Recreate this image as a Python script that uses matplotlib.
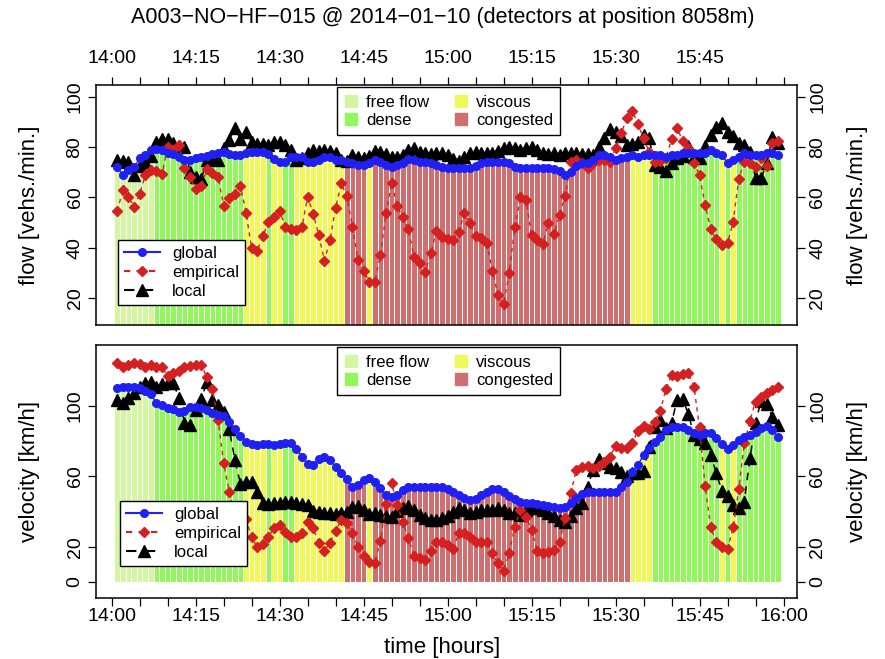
import numpy as np
import matplotlib
matplotlib.use("Agg")
import matplotlib.pyplot as plt
from matplotlib.lines import Line2D

plt.rcParams['font.family'] = ['Liberation Sans', 'DejaVu Sans']

# minutes after 14:00
minutes = np.arange(1, 120)

# traffic state of each minute (run lengths)
state_runs = [("free flow", 7), ("dense", 16), ("viscous", 4), ("dense", 1), ("viscous", 2),
              ("dense", 2), ("viscous", 9), ("congested", 4), ("viscous", 1), ("congested", 46),
              ("viscous", 4), ("dense", 12), ("viscous", 1), ("dense", 1), ("viscous", 1), ("dense", 8)]
state_colors = {"free flow": "#d4f5a2", "dense": "#92f75c", "viscous": "#eff75a", "congested": "#cf7070"}
states = [s for s, n in state_runs for _ in range(n)]

global_flow = [72.0, 68.9, 70.9, 72.0, 75.6, 76.9, 78.9, 79.2, 78.9, 77.8, 77.3, 76.0, 74.9, 74.9, 75.6, 76.0,
               76.5, 77.3, 77.8, 78.2, 77.3, 76.9, 76.9, 77.8, 78.2, 78.2, 78.2, 77.3, 75.2, 74.0, 74.0, 76.0,
               76.0, 76.0, 74.0, 74.0, 74.9, 76.0, 76.0, 74.9, 74.9, 74.3,
               73.8, 72.9, 72.9, 73.8, 74.9, 74.2, 72.9, 72.0, 72.9, 73.8, 75.2, 74.9, 74.2, 74.2, 73.6, 72.9,
               72.0, 71.6, 71.6, 71.6, 71.6, 71.6, 72.5, 73.8, 74.2, 74.2, 74.2, 74.2, 73.6, 72.0, 71.6, 71.6,
               71.6, 71.6, 71.6, 71.6, 71.2, 70.7, 68.9, 70.3, 72.5, 73.6,
               73.8, 74.9, 76.9, 76.9, 76.0, 74.9, 75.6, 76.0, 76.9, 76.0, 76.9, 76.9, 76.9, 76.9, 76.0, 76.9,
               76.9, 77.8, 77.8, 77.8, 77.8, 77.8, 78.9, 77.8, 76.9, 73.8, 74.9, 76.0, 77.8, 76.9, 76.9, 76.9,
               77.8, 77.8, 76.9]
emp_flow = [54.6, 62.9, 60.3, 56.3, 61.4, 68.9, 70.9, 70.7, 69.4, 80.2, 79.1, 80.9, 71.6, 68.3, 63.2, 64.6,
            71.2, 69.6, 68.3, 56.6, 59.6, 61.4, 64.6, 53.9, 39.7, 38.8, 44.6, 50.3, 52.1, 54.7, 48.4, 47.3,
            47.0, 48.4, 60.3, 53.4, 45.0, 34.8, 43.0, 56.0, 65.6, 60.5,
            48.3, 35.1, 30.8, 26.4, 26.4, 37.1, 53.7, 65.9, 56.6, 52.1, 47.3, 36.4, 34.1, 30.4, 37.7, 46.7,
            44.4, 43.6, 43.0, 46.3, 53.7, 49.7, 44.6, 43.7, 41.7, 30.8, 21.1, 17.5, 30.0, 48.1, 60.0, 58.9,
            44.9, 43.0, 41.3, 49.7, 45.4, 53.0, 60.5, 74.2, 74.9, 73.8,
            71.6, 73.8, 74.9, 74.9, 74.2, 79.6, 85.5, 91.5, 94.5, 89.2, 83.5, 78.2, 74.2, 74.6, 75.6, 83.1,
            87.5, 82.6, 79.6, 73.8, 68.9, 57.0, 47.3, 43.3, 41.0, 41.7, 50.3, 67.2, 74.2, 73.6, 72.0, 75.6,
            72.5, 81.6, 82.6]
local_flow = [74.9, 74.6, 74.2, 68.9, 72.5, 74.2, 76.5, 82.2, 83.1, 83.1, 81.8, 80.5, 80.2, 70.3, 68.3, 67.2,
              74.9, 75.2, 74.9, 79.6, 82.9, 87.8, 83.1, 86.2, 82.2, 81.5, 81.5, 80.9, 82.2, 82.2, 80.9, 78.9,
              74.9, 75.6, 77.8, 78.9, 78.6, 78.9, 78.6, 77.8, 74.9, 74.6,
              76.9, 76.0, 75.6, 76.5, 78.6, 78.2, 77.3, 76.2, 76.0, 76.9, 78.9, 79.6, 78.2, 77.8, 77.3, 77.6,
              77.8, 76.9, 75.2, 74.6, 76.0, 77.8, 78.2, 77.8, 77.6, 77.8, 78.6, 79.6, 80.2, 79.6, 78.9, 79.6,
              80.2, 78.9, 77.8, 77.3, 77.8, 76.9,
              77.6, 77.6, 77.8, 77.3, 77.3, 76.9, 80.2, 83.5, 87.1, 86.2, 84.4, 80.9, 81.5, 82.2, 84.9, 83.5,
              72.9, 72.0, 70.7, 73.8, 75.6, 76.5, 80.5, 76.2, 75.6, 80.5, 84.9, 88.2, 89.5, 86.2, 84.4, 81.8,
              80.9, 78.2, 67.6, 67.6, 73.6, 83.9, 81.8]

global_vel = [110.4, 110.6, 111.0, 111.0, 110.4, 108.7, 106.8, 101.5, 100.6, 99.0, 98.1, 96.8, 97.3, 99.6,
              99.6, 98.6, 97.7, 96.2, 94.9, 94.3, 91.1, 86.7, 83.0, 79.7, 78.2, 77.8, 78.2, 78.2, 77.8, 78.4,
              78.8, 78.8, 75.4, 71.2, 67.0, 66.5, 69.7, 70.8, 69.3, 65.5, 61.7, 58.3, 54.2,
              55.1, 58.0, 58.9, 57.0, 53.2, 49.4, 48.5, 49.4, 52.3, 54.2, 54.2, 54.2, 54.2, 54.2, 54.2, 53.8,
              52.7, 51.3, 49.4, 47.5, 46.6, 47.0, 49.4, 51.3, 52.7, 52.7, 51.3, 48.9, 47.0, 45.7, 45.1, 44.7,
              44.4, 43.8, 43.2, 42.5, 41.9, 42.5, 44.7, 47.5, 50.0,
              51.3, 51.3, 51.3, 50.9, 50.9, 51.3, 54.2, 57.0, 62.7, 66.5, 72.2, 76.0, 79.7, 82.6, 86.4, 87.9,
              88.3, 87.9, 86.4, 84.5, 83.5, 84.5, 84.9, 81.7, 78.4, 75.4, 77.8, 80.7, 82.6, 83.5, 85.4, 87.3,
              88.6, 86.4, 82.6]
emp_vel = [124.6, 122.3, 123.3, 124.2, 123.9, 122.3, 123.3, 122.3, 121.9, 117.0, 118.9, 120.1, 121.9, 122.7,
           123.3, 123.3, 116.3, 109.5, 92.0, 67.4, 51.3, 37.1, 40.0, 35.6, 25.4, 19.7, 21.6, 25.8, 30.5, 32.4,
           28.6, 25.8, 25.4, 28.0, 34.3, 30.5, 22.3, 17.8, 22.3, 29.1, 35.2, 33.7,
           28.0, 19.8, 14.8, 11.6, 11.0, 23.5, 44.3, 56.1, 43.8, 34.3, 24.8, 14.8, 13.4, 12.5, 17.8, 22.9,
           22.9, 21.0, 18.5, 28.0, 28.0, 25.4, 22.9, 22.9, 22.9, 16.3, 10.6, 6.5, 16.3, 31.4, 40.9, 37.1,
           29.5, 17.8, 16.3, 17.2, 18.1, 22.9, 36.2, 50.8, 63.6,
           65.2, 65.9, 64.6, 65.9, 68.4, 71.2, 77.3, 76.0, 76.0, 78.8, 86.0, 88.6, 86.7, 91.1, 97.3, 109.5,
           117.6, 117.0, 118.2, 118.6, 111.0, 87.9, 54.5, 31.0, 22.9, 20.0, 18.5, 31.0, 52.7, 78.8, 91.7,
           102.5, 105.3, 107.6, 109.1, 110.6]
local_vel = [103.4, 101.9, 104.4, 107.2, 111.0, 112.9, 113.8, 111.0, 112.5, 112.9, 113.3, 104.4, 90.2, 89.2,
             97.7, 103.8, 113.8, 103.4, 100.6, 96.8, 86.8, 69.3, 55.7, 57.0, 57.0, 51.3, 45.1, 44.3, 44.7,
             45.1, 45.7, 45.7, 45.1, 44.3, 43.8, 40.5, 40.0, 39.4, 39.0, 38.7, 39.0, 40.0,
             42.8, 43.3, 40.9, 38.6, 39.0, 38.1, 37.5, 37.1, 40.5, 41.9, 43.3, 40.9, 38.1, 36.2, 35.2, 35.2,
             36.2, 37.5, 40.0, 41.9, 40.9, 39.4, 40.0, 40.9, 40.9, 40.9, 41.9, 40.9, 39.4, 39.0, 38.1, 40.9,
             41.9, 41.9, 40.9, 39.4, 37.5, 35.2, 34.3, 37.5, 41.9,
             44.7, 54.2, 63.6, 69.7, 67.8, 65.5, 64.6, 62.7, 60.2, 61.7, 62.1, 63.3, 76.5, 87.9, 92.0, 87.3,
             90.5, 103.4, 103.8, 95.5, 83.5, 81.1, 79.2, 72.2, 61.7, 51.9, 48.9, 43.8, 41.9, 45.7, 70.3, 90.5,
             103.0, 101.1, 93.9, 89.2]

tick_min = np.arange(0, 121, 5)
tick_lbl = ["%d:%02d" % (14 + m // 60, m % 60) if m % 15 == 0 else "" for m in tick_min]

fig = plt.figure(figsize=(8.85, 6.59), dpi=100)
ax1 = fig.add_axes([0.1085, 0.5068, 0.792, 0.3642])
ax2 = fig.add_axes([0.1085, 0.0926, 0.792, 0.384])

FS = 14
LFS = 16

def panel(ax, glob, emp, loc, ylim, yticks, ylabel, leg_pos):
    cols = [state_colors[s] for s in states]
    ax.bar(minutes, glob, width=1.0, color=cols, edgecolor="white", linewidth=0.7, zorder=1)
    ax.plot(minutes, loc, color="black", ls=(0, (5, 4)), lw=1.1, marker="^", ms=9, zorder=3)
    ax.plot(minutes, emp, color="#d42020", ls=(0, (3, 3)), lw=1.0, marker="D", ms=5, zorder=4)
    ax.plot(minutes, glob, color="#2020f5", ls="-", lw=1.0, marker="o", ms=5.5, zorder=5)
    ax.set_xlim(-2.8, 122.4)
    ax.set_ylim(*ylim)
    ax.set_yticks(yticks)
    ax.tick_params(axis="y", left=True, right=True, labelleft=True, labelright=True,
                   direction="out", length=6, width=0.9, labelsize=FS, pad=3)
    for lbl in ax.get_yticklabels():
        lbl.set_rotation(90)
        lbl.set_va("center")
    pos = ax.get_position()
    ymid = pos.y0 + pos.height / 2
    fig.text(30 / 885, ymid, ylabel, rotation=90, ha="center", va="center", fontsize=LFS)
    fig.text(858 / 885, ymid, ylabel, rotation=90, ha="center", va="center", fontsize=LFS)
    for sp in ax.spines.values():
        sp.set_linewidth(1.1)

    h1 = [Line2D([], [], marker="s", ls="none", color=state_colors[s], ms=8)
          for s in ["free flow", "dense", "viscous", "congested"]]
    l1 = ax.legend(h1, ["free flow", "dense", "viscous", "congested"], ncol=2, loc="upper center",
                   bbox_to_anchor=(0.503, 0.99), borderaxespad=0, fancybox=False, edgecolor="black",
                   framealpha=1, fontsize=12, handlelength=0.8, handletextpad=0.5, columnspacing=1.5,
                   labelspacing=0.18, borderpad=0.45)
    l1.get_frame().set_linewidth(1.0)
    ax.add_artist(l1)
    h2 = [Line2D([], [], color="#2020f5", ls="-", marker="o", ms=5.5),
          Line2D([], [], color="#d42020", ls=(0, (3, 3)), marker="D", ms=5),
          Line2D([], [], color="black", ls=(0, (5, 4)), marker="^", ms=9)]
    l2 = ax.legend(h2, ["global", "empirical", "local"], loc="lower left", bbox_to_anchor=leg_pos,
                   borderaxespad=0, fancybox=False, edgecolor="black", framealpha=1, fontsize=12,
                   handlelength=2.2, handletextpad=0.7, labelspacing=0.25, borderpad=0.35)
    l2.get_frame().set_linewidth(1.0)

panel(ax1, global_flow, emp_flow, local_flow, (9.2, 104.8), [20, 40, 60, 80, 100],
      "flow [vehs./min.]", (0.031, 0.083))
panel(ax2, global_vel, emp_vel, local_vel, (-9.1, 134.7), [0, 20, 60, 100],
      "velocity [km/h]", (0.034, 0.126))

ax1.set_xticks(tick_min)
ax1.set_xticklabels(tick_lbl[:-1] + [""])
ax1.tick_params(axis="x", top=True, bottom=False, labeltop=True, labelbottom=False,
                direction="out", length=6, width=0.9, labelsize=FS, pad=7)
ax2.set_xticks(tick_min)
ax2.set_xticklabels(tick_lbl)
ax2.tick_params(axis="x", top=False, bottom=True, labeltop=False, labelbottom=True,
                direction="out", length=6, width=0.9, labelsize=FS, pad=1)
fig.text(0.5, 1 - 648 / 659, "time [hours]", ha="center", va="center", fontsize=LFS)

fig.text(0.5, 1 - 18 / 659, "A003\u2212NO\u2212HF\u2212015 @ 2014\u221201\u221210 (detectors at position 8058m)",
         ha="center", va="center", fontsize=15.5)

fig.savefig("out.png", dpi=100)
